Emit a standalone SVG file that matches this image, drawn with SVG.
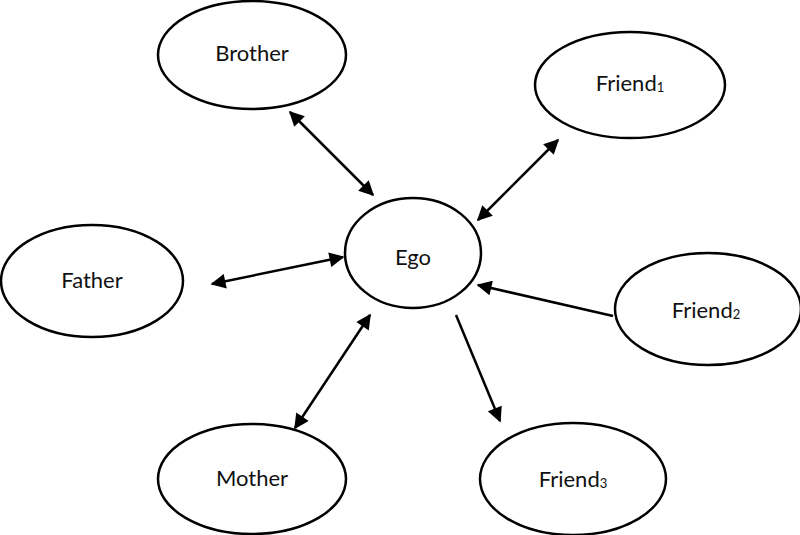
<svg xmlns="http://www.w3.org/2000/svg" width="800" height="535" viewBox="0 0 800 535">
<style>
.node ellipse{fill:#fff;stroke:#000;stroke-width:2.5}
.node text{font-family:Lato,"Open Sans","Liberation Sans",sans-serif;font-size:22px;fill:#111;text-anchor:middle;dominant-baseline:central}
.node tspan.sub{font-size:13px}
#connectors line{stroke:#000;stroke-width:2.5}
</style>
<defs>
<marker id="ah" viewBox="0 0 10 10" refX="9" refY="5" markerWidth="7" markerHeight="6" markerUnits="strokeWidth" orient="auto-start-reverse">
<path d="M0,0 L10,5 L0,10 z" fill="#000"/>
</marker>
</defs>
<rect width="800" height="535" fill="#fff"/>
<g id="connectors">
<line x1="290" y1="112" x2="373" y2="195" marker-start="url(#ah)" marker-end="url(#ah)"/>
<line x1="558" y1="140" x2="478" y2="220" marker-start="url(#ah)" marker-end="url(#ah)"/>
<line x1="212" y1="284" x2="343" y2="257" marker-start="url(#ah)" marker-end="url(#ah)"/>
<line x1="613" y1="316" x2="478" y2="285" marker-end="url(#ah)"/>
<line x1="295" y1="428" x2="370" y2="315" marker-start="url(#ah)" marker-end="url(#ah)"/>
<line x1="456" y1="315" x2="500" y2="421" marker-end="url(#ah)"/>
</g>
<g id="brother" class="node"><ellipse cx="252" cy="55" rx="94" ry="54"/><text x="252" y="52">Brother</text></g>
<g id="friend1" class="node"><ellipse cx="630" cy="85" rx="95" ry="53"/><text x="630" y="82">Friend<tspan class="sub" dy="5">1</tspan></text></g>
<g id="ego" class="node"><ellipse cx="413" cy="253" rx="68" ry="55"/><text x="413" y="256">Ego</text></g>
<g id="father" class="node"><ellipse cx="92" cy="281" rx="91" ry="56"/><text x="92" y="279">Father</text></g>
<g id="friend2" class="node"><ellipse cx="708" cy="309" rx="93" ry="56"/><text x="706" y="309">Friend<tspan class="sub" dy="5">2</tspan></text></g>
<g id="mother" class="node"><ellipse cx="252" cy="479" rx="94" ry="55"/><text x="252" y="477">Mother</text></g>
<g id="friend3" class="node"><ellipse cx="573" cy="479" rx="93" ry="56"/><text x="573" y="478">Friend<tspan class="sub" dy="5">3</tspan></text></g>
</svg>
